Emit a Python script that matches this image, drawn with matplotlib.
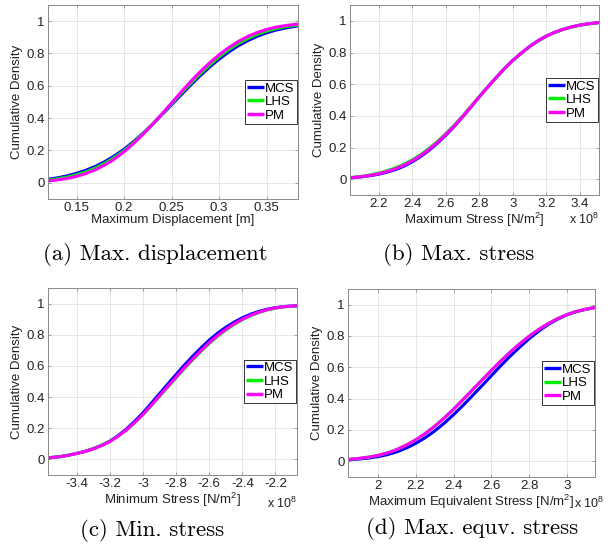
import numpy as np
import matplotlib
matplotlib.use('Agg')
import matplotlib.pyplot as plt
from matplotlib.ticker import FuncFormatter

plt.rcParams['font.family'] = ['Liberation Sans', 'DejaVu Sans']
plt.rcParams['axes.unicode_minus'] = False
plt.rcParams['mathtext.fontset'] = 'custom'
plt.rcParams['mathtext.rm'] = 'Liberation Sans'
plt.rcParams['mathtext.it'] = 'Liberation Sans:italic'

series_names = ['MCS', 'LHS', 'PM']
series_colors = ['#0000ff', '#00ee00', '#ff00ff']

# (a) desplazamiento maximo [m]
disp_x = [0.12, 0.13, 0.14, 0.15, 0.16, 0.17, 0.18, 0.19, 0.20, 0.21, 0.22, 0.23, 0.24, 0.25,
          0.26, 0.27, 0.28, 0.29, 0.30, 0.31, 0.32, 0.33, 0.34, 0.35, 0.36, 0.37, 0.38, 0.383]
disp_mcs = [0.022, 0.031, 0.043, 0.059, 0.078, 0.102, 0.132, 0.167, 0.208, 0.255, 0.307, 0.363, 0.422, 0.483,
            0.544, 0.604, 0.662, 0.716, 0.765, 0.809, 0.847, 0.879, 0.906, 0.928, 0.945, 0.958, 0.968, 0.971]
disp_lhs = [0.017, 0.025, 0.035, 0.050, 0.068, 0.092, 0.122, 0.158, 0.200, 0.249, 0.304, 0.363, 0.425, 0.489,
            0.553, 0.615, 0.675, 0.729, 0.779, 0.823, 0.861, 0.892, 0.918, 0.939, 0.954, 0.966, 0.974, 0.977]
disp_pm = [0.012, 0.018, 0.027, 0.040, 0.058, 0.081, 0.111, 0.148, 0.192, 0.243, 0.300, 0.362, 0.427, 0.494,
           0.561, 0.626, 0.687, 0.742, 0.792, 0.836, 0.874, 0.905, 0.930, 0.949, 0.963, 0.973, 0.980, 0.982]

# (b) tension maxima [x 1e8 N/m2]
smax_x = [2.03, 2.05, 2.1, 2.15, 2.2, 2.25, 2.3, 2.35, 2.4, 2.45, 2.5, 2.55, 2.6, 2.65, 2.7, 2.75, 2.8,
          2.85, 2.9, 2.95, 3.0, 3.05, 3.1, 3.15, 3.2, 3.25, 3.3, 3.35, 3.4, 3.45, 3.515]
smax_pm = [0.009, 0.011, 0.016, 0.024, 0.034, 0.048, 0.065, 0.087, 0.115, 0.148, 0.187, 0.231, 0.281, 0.335,
           0.394, 0.456, 0.519, 0.580, 0.640, 0.697, 0.749, 0.795, 0.837, 0.873, 0.903, 0.927, 0.946, 0.961,
           0.973, 0.981, 0.989]
smax_mcs = [0.009, 0.010, 0.015, 0.022, 0.031, 0.044, 0.060, 0.081, 0.109, 0.142, 0.181, 0.226, 0.276, 0.331,
            0.391, 0.454, 0.518, 0.580, 0.640, 0.697, 0.749, 0.795, 0.837, 0.873, 0.903, 0.927, 0.946, 0.961,
            0.973, 0.981, 0.989]
smax_lhs = [0.010, 0.012, 0.018, 0.027, 0.038, 0.053, 0.071, 0.093, 0.121, 0.154, 0.193, 0.237, 0.286, 0.339,
            0.397, 0.458, 0.520, 0.580, 0.639, 0.695, 0.747, 0.793, 0.835, 0.871, 0.902, 0.926, 0.945, 0.960,
            0.972, 0.981, 0.989]

# (c) tension minima [x 1e8 N/m2]
smin_x = [-3.575, -3.5, -3.45, -3.4, -3.35, -3.3, -3.25, -3.2, -3.15, -3.1, -3.05, -3.0, -2.95, -2.9,
          -2.85, -2.8, -2.75, -2.7, -2.65, -2.6, -2.55, -2.5, -2.45, -2.4, -2.35, -2.3, -2.25, -2.2,
          -2.15, -2.07]
smin_pm = [0.010, 0.018, 0.027, 0.038, 0.051, 0.068, 0.089, 0.115, 0.150, 0.190, 0.238, 0.290, 0.349, 0.410,
           0.470, 0.530, 0.589, 0.645, 0.699, 0.750, 0.795, 0.835, 0.870, 0.900, 0.925, 0.945, 0.961, 0.972,
           0.980, 0.986]
smin_mcs = [0.010, 0.018, 0.027, 0.039, 0.052, 0.070, 0.091, 0.118, 0.154, 0.196, 0.246, 0.300, 0.361, 0.423,
            0.485, 0.546, 0.606, 0.662, 0.716, 0.766, 0.810, 0.848, 0.881, 0.909, 0.932, 0.950, 0.964, 0.974,
            0.981, 0.986]
smin_lhs = [0.010, 0.019, 0.028, 0.039, 0.052, 0.069, 0.090, 0.116, 0.150, 0.189, 0.236, 0.287, 0.345, 0.405,
            0.465, 0.524, 0.583, 0.639, 0.693, 0.744, 0.790, 0.830, 0.866, 0.896, 0.922, 0.943, 0.959, 0.970,
            0.979, 0.985]

# (d) tension equivalente maxima [x 1e8 N/m2]
seq_x = [1.84, 1.9, 1.95, 2.0, 2.05, 2.1, 2.15, 2.2, 2.25, 2.3, 2.35, 2.4, 2.45, 2.5, 2.55, 2.6, 2.65,
         2.7, 2.75, 2.8, 2.85, 2.9, 2.95, 3.0, 3.05, 3.1, 3.15]
seq_pm = [0.012, 0.019, 0.027, 0.038, 0.054, 0.076, 0.104, 0.138, 0.178, 0.224, 0.276, 0.333, 0.394, 0.456,
          0.518, 0.580, 0.640, 0.697, 0.750, 0.798, 0.841, 0.878, 0.910, 0.936, 0.956, 0.971, 0.982]
seq_mcs = [0.010, 0.015, 0.021, 0.030, 0.043, 0.061, 0.085, 0.115, 0.151, 0.194, 0.243, 0.298, 0.357, 0.419,
           0.482, 0.546, 0.610, 0.671, 0.728, 0.782, 0.830, 0.872, 0.906, 0.934, 0.955, 0.970, 0.982]
seq_lhs = [0.012, 0.019, 0.027, 0.038, 0.054, 0.076, 0.104, 0.138, 0.178, 0.224, 0.276, 0.333, 0.394, 0.456,
           0.518, 0.580, 0.640, 0.697, 0.750, 0.798, 0.841, 0.878, 0.910, 0.936, 0.956, 0.971, 0.982]

W, H = 612, 551
fig = plt.figure(figsize=(W / 100, H / 100), dpi=100)


def panel(box, x, ys, xlim, xticks, xlabel, caption, cap_xy, expo_xy=None):
    # box = (izq, arriba, der, abajo) en pixeles
    l, t, r, b = box
    ax = fig.add_axes([l / W, 1 - b / H, (r - l) / W, (b - t) / H])
    for y, c, n in zip(ys, series_colors, series_names):
        ax.plot(x, y, color=c, lw=2.2, label=n, solid_capstyle='butt')
    ax.set_xlim(xlim)
    ax.set_ylim(-0.1, 1.1)
    ax.set_xticks(xticks)
    ax.set_yticks([0, 0.2, 0.4, 0.6, 0.8, 1])
    fmt = FuncFormatter(lambda v, p: '%g' % round(v, 3))
    ax.xaxis.set_major_formatter(fmt)
    ax.yaxis.set_major_formatter(fmt)
    ax.grid(True, color='#e3e3e3', lw=0.6)
    ax.set_axisbelow(True)
    ax.tick_params(direction='in', length=2.5, width=0.5, labelsize=9.5, pad=2.5,
                   top=True, right=True, colors='#808080', labelcolor='#222222')
    for s in ax.spines.values():
        s.set_color('#8a8a8a')
        s.set_linewidth(0.7)
    ax.set_xlabel(xlabel, fontsize=9.5, color='#222222', labelpad=0)
    ax.set_ylabel('Cumulative Density', fontsize=9.5, color='#222222', labelpad=2)
    leg = ax.legend(loc='center right', fontsize=9.5, frameon=True, fancybox=False,
                    edgecolor='#333333', framealpha=1, borderpad=0.15, labelspacing=0.1,
                    handlelength=1.3, handletextpad=0.1, borderaxespad=0.1)
    leg.get_frame().set_linewidth(0.7)
    for h in leg.get_lines():
        h.set_linewidth(2.4)
    if expo_xy is not None:
        fig.text(expo_xy[0] / W, 1 - expo_xy[1] / H, 'x 10$^{8}$', fontsize=9,
                 color='#222222', ha='center', va='center')
    fig.text(cap_xy[0] / W, 1 - cap_xy[1] / H, caption, family='cmr10', fontsize=16.5,
             ha='center', va='center')
    return ax


panel((48, 5, 298, 199), disp_x, [disp_mcs, disp_lhs, disp_pm], (0.12, 0.383),
      [0.15, 0.2, 0.25, 0.3, 0.35], 'Maximum Displacement [m]',
      '(a) Max. displacement', (155, 255))

panel((350, 5, 599, 195), smax_x, [smax_mcs, smax_lhs, smax_pm], (2.03, 3.515),
      [2.2, 2.4, 2.6, 2.8, 3.0, 3.2, 3.4], 'Maximum Stress [N/m$^{2}$]',
      '(b) Max. stress', (459, 255), expo_xy=(584, 219))

panel((48, 288, 297, 475), smin_x, [smin_mcs, smin_lhs, smin_pm], (-3.575, -2.07),
      [-3.4, -3.2, -3.0, -2.8, -2.6, -2.4, -2.2], 'Minimum Stress [N/m$^{2}$]',
      '(c) Min. stress', (152, 531), expo_xy=(282, 503))

panel((348, 289, 595, 477), seq_x, [seq_mcs, seq_lhs, seq_pm], (1.84, 3.15),
      [2.0, 2.2, 2.4, 2.6, 2.8, 3.0], 'Maximum Equivalent Stress [N/m$^{2}$]',
      '(d) Max. equv. stress', (472, 529), expo_xy=(589, 503))

fig.savefig('out.png', dpi=100)
